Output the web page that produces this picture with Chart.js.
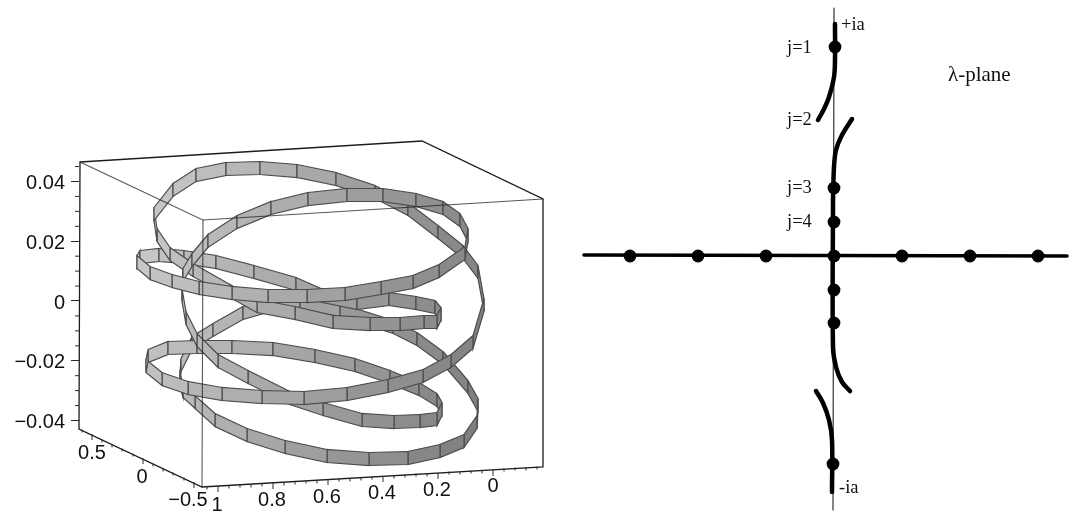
<!DOCTYPE html>
<html>
<head>
<meta charset="utf-8">
<title>Ribbon and lambda-plane</title>
<script src="https://cdn.jsdelivr.net/npm/chart.js@4/dist/chart.umd.min.js"></script>
<style>
  html, body { margin: 0; padding: 0; background: #fff; }
  #plot { display: block; filter: blur(0.5px); }
</style>
</head>
<body>
<canvas id="plot" width="1076" height="512"></canvas>
<script>
'use strict';

// ── Ribbon strands: [x, centre y] at each divider ──
const ribbonBack = [[180,380],[181,365],[192,343],[213,330],[243,313],[267,306],[300,302],[340,310],[393,327],[417,339],[443,358],[468,387],[478,405],[477,422],[464,441],[440,451],[408,458],[369,459],[327,456],[285,447],[247,435],[215,420],[195,402],[183,391],[180,380]];
const ribbonRear = [[137,262],[140,257],[159,255],[184,257],[216,262],[254,272],[296,284],[323,296],[357,303],[389,299],[416,303],[435,307],[441,314],[437,322],[424,322],[400,324],[370,324],[333,322],[295,313],[257,306],[230,291],[193,270],[170,254],[157,235],[154,214],[173,190],[196,175],[226,169],[260,168],[297,171],[336,179],[375,192],[408,209],[438,232],[463,252],[478,272],[484,305]];
const ribbonMiddle = [[148,356],[168,348],[197,347],[232,347],[273,349],[315,356],[355,365],[390,377],[419,389],[437,400],[442,409],[437,419],[420,421],[394,422],[362,420],[323,409],[290,398],[248,377],[218,361],[197,340],[186,318],[182,295],[183,275],[192,260],[208,241],[237,222],[271,208],[308,199],[347,195],[383,195],[416,200],[443,208],[460,220],[468,235],[465,253],[439,271],[413,282],[381,288],[345,294],[307,296],[268,296],[232,293],[199,288],[172,281],[150,273],[137,262]];
const ribbonFront = [[484,305],[473,342],[451,361],[423,376],[388,386],[347,394],[304,398],[262,397],[222,394],[188,388],[162,379],[146,366],[148,356]];
const RIBBON_HEIGHT = 13;

// ── Wire box edges ────────────────────────────────────────
const boxEdges = [
  [[80,162],[422,141],[543,199],[543,467],[202,487],[79,429],[80,162]],
  [[80,162],[203,220],[202,487]],
  [[203,220],[543,199]],
];

// ── Vertical axis (box height) ────────────────────────────
const zTicks = [-0.04, -0.02, 0, 0.02, 0.04];
const zMinor = [0.045,0.035,0.03,0.025,0.015,0.01,0.005,-0.005,-0.01,-0.015,-0.025,-0.03,-0.035];

// ── Slanted axes: tick marks and numbers ──────────────────
const sideMajor = [[92,437],[143,461],[194,485]];
const sideMinor = [[82,431],[102,441],[112,446],[122,450],[133,455],[153,465],[163,470],[173,474],[184,479]];
const floorMajor = [[218,489],[273,486],[328,482],[383,479],[438,476],[493,473]];
const floorMinor = [[207,488],[229,487],[240,486],[251,486],[262,485],[284,484],[295,483],[306,482],[317,482],[339,480],[350,480],[361,479],[372,478],[394,477],[405,476],[416,475],[427,475],[449,473],[460,473],[471,472],[482,472],[504,470],[515,469],[526,469],[537,468]];
const axisTexts = ['0.5','0','\u22120.5','1','0.8','0.6','0.4','0.2','0'];
const axisTextX = [92,142,188,217,272,327,382,437,493];
const axisTextY = [453,477,500,505,500,497,493,490,486];

// ── Lambda plane ──────────────────────────────────────────
const realLine = [[584,255],[1067,256]];
const imagLine = [[834,8],[833,510]];
const thickCuts = [
  [[835,24],[835,60],[834,77],[829,97],[824,109],[818,120]],
  [[852,119],[842,135],[836,150],[834,167],[833,200]],
  [[833,200],[833,347],[836,367],[842,382],[850,391]],
  [[816,391],[823,403],[829,420],[832,440],[832,492]],
];
const realDotsX = [630,698,766,834,902,970,1038];
const realDotsY = [256,256,256,256,256,256,256];
const imagDotsX = [835,834,834,834,834,833];
const imagDotsY = [47,188,222,290,323,464];
const planeTexts = ['+ia','j=1','j=2','j=3','j=4','-ia'];
const planeTextX = [841,787,787,787,787,839];
const planeTextY = [25,48,120,188,222,488];
const planeTitle = ['\u03bb-plane'];

// ── Helpers ───────────────────────────────────────────────
const toPoints = list => list.map(p => ({ x: p[0], y: p[1] }));

function ribbonShade(x, y) {
  const g = Math.round(200 - (x - 140) * 0.2 - (y - 250) * 0.04);
  return `rgb(${g},${g},${g})`;
}

function ribbonQuads(strand) {
  const out = [];
  for (let i = 0; i < strand.length - 1; i++) {
    const a = strand[i], b = strand[i + 1], h = RIBBON_HEIGHT / 2;
    out.push({
      data: [
        { x: a[0], y: a[1] - h }, { x: b[0], y: b[1] - h },
        { x: b[0], y: b[1] + h }, { x: a[0], y: a[1] + h },
        { x: a[0], y: a[1] - h },
      ],
      showLine: true, fill: 'shape', pointRadius: 0, tension: 0,
      backgroundColor: ribbonShade((a[0] + b[0]) / 2, (a[1] + b[1]) / 2),
      borderColor: '#4c4c4c', borderWidth: 1.2, clip: false,
    });
  }
  return out;
}

function lineSet(points, color, width, tension) {
  return {
    data: toPoints(points), showLine: true, pointRadius: 0, tension: tension || 0, fill: false,
    borderColor: color, borderWidth: width, borderCapStyle: 'round', clip: false,
  };
}

function tickSet(points, radius) {
  return {
    data: toPoints(points), showLine: false, pointStyle: 'line', pointRotation: 90,
    pointRadius: radius, pointBorderColor: '#2a2a2a', pointBorderWidth: 1, clip: false,
  };
}

// paint order: first pushed ends up underneath
const painted = [];
[ribbonBack, ribbonRear, ribbonMiddle, ribbonFront].forEach(s => painted.push(...ribbonQuads(s)));
boxEdges.forEach((e, i) => painted.push(lineSet(e, i === 0 ? '#1c1c1c' : 'rgba(30,30,30,.75)', i === 0 ? 1.3 : 1.1)));
painted.push(tickSet(sideMajor, 3), tickSet(sideMinor, 1.5), tickSet(floorMajor, 3), tickSet(floorMinor, 1.5));
zMinor.forEach(v => painted.push({
  yAxisID: 'z', data: [{ x: 75, y: v }, { x: 79, y: v }], showLine: true,
  pointRadius: 0, borderColor: '#2a2a2a', borderWidth: 1, clip: false,
}));
painted.push(lineSet(imagLine, '#333', 1.2), lineSet(realLine, '#000', 3.6));
thickCuts.forEach(c => painted.push(lineSet(c, '#000', 4.5, 0.35)));
[[realDotsX, realDotsY], [imagDotsX, imagDotsY]].forEach(([xs, ys]) => painted.push({
  data: xs.map((x, i) => ({ x, y: ys[i] })), showLine: false,
  pointRadius: 6.4, pointBackgroundColor: '#000', pointBorderColor: '#000', pointBorderWidth: 0, clip: false,
}));

const textLabels = {
  id: 'textLabels',
  afterDatasetsDraw(chart) {
    const { ctx, scales: { x, y } } = chart;
    const put = (texts, xs, ys, font) => texts.forEach((t, i) => {
      ctx.font = font;
      ctx.fillStyle = '#111';
      ctx.textBaseline = 'middle';
      ctx.fillText(t, x.getPixelForValue(xs[i]) - ctx.measureText(t).width * (font.includes('Sans') ? 0.5 : 0), y.getPixelForValue(ys[i]));
    });
    ctx.save();
    ctx.textAlign = 'left';
    put(axisTexts, axisTextX, axisTextY, "20px 'Liberation Sans'");
    put(planeTexts, planeTextX, planeTextY, "18.5px 'Liberation Serif'");
    put(planeTitle, [948], [75], "21px 'Liberation Serif'");
    ctx.restore();
  },
};

new Chart(document.getElementById('plot'), {
  type: 'scatter',
  data: { datasets: painted.reverse() },
  plugins: [textLabels],
  options: {
    responsive: false,
    animation: false,
    layout: { padding: 0, autoPadding: false },
    plugins: { legend: { display: false }, tooltip: { enabled: false } },
    scales: {
      x: { type: 'linear', min: 79, max: 1076, display: false },
      y: { type: 'linear', min: 0, max: 512, reverse: true, display: false },
      z: {
        type: 'linear', position: 'left',
        min: -0.07063, max: 0.10075,
        afterBuildTicks: s => { s.ticks = zTicks.map(value => ({ value })); },
        afterFit: s => { s.width = 79; s.paddingTop = 0; s.paddingBottom = 0; },
        border: { display: false },
        grid: { drawOnChartArea: false, drawTicks: true, tickLength: 8, tickColor: '#2a2a2a', tickWidth: 1 },
        ticks: {
          padding: 6, color: '#111', autoSkip: false, labelOffset: 2,
          font: { family: "'Liberation Sans'", size: 20 },
          callback: v => (v < 0 ? '\u2212' : '') + (v === 0 ? '0' : Math.abs(v).toFixed(2)),
        },
      },
    },
  },
});
</script>
</body>
</html>
